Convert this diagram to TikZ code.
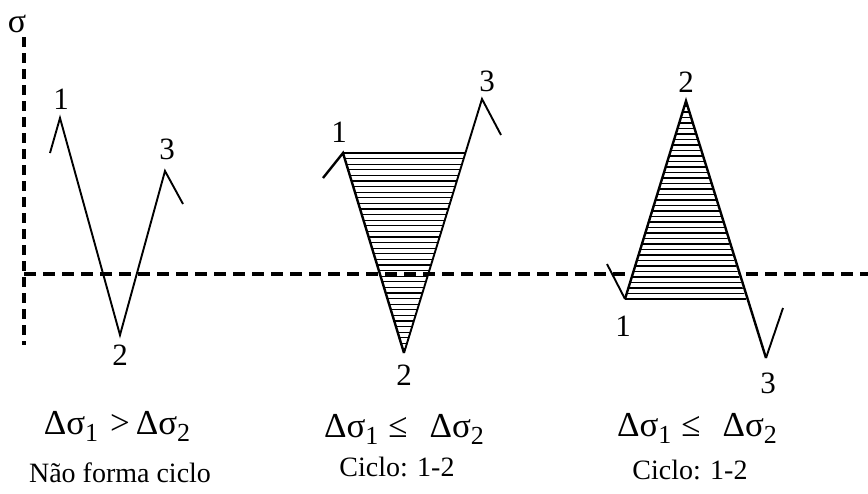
\documentclass[tikz,border=0pt]{standalone}
\usepackage{fontspec}
\setmainfont{Liberation Serif}
\newcommand{\sbs}[1]{\raisebox{-0.22em}{\fontsize{26}{26}\selectfont #1}}
\tikzset{
  axis/.style={line width=3.2pt, dash pattern=on 12pt off 7pt},
  vaxis/.style={line width=3.2pt, dash pattern=on 10pt off 6pt},
  curve/.style={line width=1.9pt, line join=miter},
  tri/.style={line width=2.4pt, line join=miter},
  hatchline/.style={line width=1.1pt},
  lbl/.style={font=\fontsize{31}{31}\selectfont, inner sep=0pt},
  cond/.style={font=\fontsize{35}{35}\selectfont, inner sep=0pt, anchor=base},
  note/.style={font=\fontsize{28}{28}\selectfont, inner sep=0pt, anchor=base}
}
\begin{document}
\begin{tikzpicture}[x=1pt,y=-1pt]
\useasboundingbox (0,0) rectangle (868,493);
% axes
\coordinate (vtop) at (24,37);
\coordinate (vbot) at (24,345);
\coordinate (hl) at (24,274);
\coordinate (hr) at (868,274);
\node[font=\fontsize{34}{34}\selectfont, inner sep=0pt] (sig) at (17,24) {σ};

% left graph
\coordinate (a0) at (50,153);
\coordinate (a1) at (60,118);
\coordinate (a2) at (120,335);
\coordinate (a3) at (165,171);
\coordinate (a4) at (183,204);
\draw[curve] (a0) -- (a1) -- (a2) -- (a3) -- (a4);
\node[lbl] (la1) at (61,99) {1};
\node[lbl] (la2) at (120,355) {2};
\node[lbl] (la3) at (167,149) {3};

% middle graph
\coordinate (b0) at (323,178);
\coordinate (b1) at (343,153);
\coordinate (b2) at (404,353);
\coordinate (b3) at (482,99);
\coordinate (b4) at (501,135);
\coordinate (bt) at (465,153);
\begin{scope}
\clip (b1) -- (bt) -- (b2) -- cycle;
\foreach \yy in {153,158.6,...,356} \draw[hatchline] (330,\yy) -- (480,\yy);
\draw[white, line width=4pt] (330,274) -- (480,274);
\end{scope}
\draw[tri] (b0) -- (b1) -- (b2);
\draw[curve] (b2) -- (b3) -- (b4);
\draw[tri] (b1) -- (bt);
\node[lbl] (lb1) at (339,132) {1};
\node[lbl] (lb2) at (404,375) {2};
\node[lbl] (lb3) at (487,81) {3};

% axes
\draw[vaxis] (vtop) -- (vbot);
\draw[axis] (hl) -- (hr);

% right graph (covers the axis)
\coordinate (c0) at (607,264);
\coordinate (c1) at (625,299);
\coordinate (c2) at (686,101);
\coordinate (c3) at (766,358);
\coordinate (c4) at (783,308);
\coordinate (cb) at (746,299);
\fill[white] (c1) -- (cb) -- (c2) -- cycle;
\begin{scope}
\clip (c1) -- (cb) -- (c2) -- cycle;
\foreach \yy in {299,293.5,...,95} \draw[hatchline] (615,\yy) -- (760,\yy);
\end{scope}
\draw[curve] (c0) -- (c1);
\draw[tri] (c1) -- (c2) -- (c3);
\draw[curve] (c3) -- (c4);
\draw[tri] (c1) -- (cb);
\node[lbl] (lc1) at (623,326) {1};
\node[lbl] (lc2) at (686,82) {2};
\node[lbl] (lc3) at (768,383) {3};

% captions
\node[cond] (t1) at (117,434) {Δσ\sbs{1}\hspace{12pt}>\hspace{6pt}Δσ\sbs{2}};
\node[cond] (t2) at (404,437) {Δσ\sbs{1}\hspace{10pt}≤\hspace{22pt}Δσ\sbs{2}};
\node[cond] (t3) at (697,436) {Δσ\sbs{1}\hspace{10pt}≤\hspace{22pt}Δσ\sbs{2}};
\node[note] (n1) at (120,482) {Não forma ciclo};
\node[note] (n2) at (397,476) {Ciclo: 1-2};
\node[note] (n3) at (690,479) {Ciclo: 1-2};
\end{tikzpicture}
\end{document}
